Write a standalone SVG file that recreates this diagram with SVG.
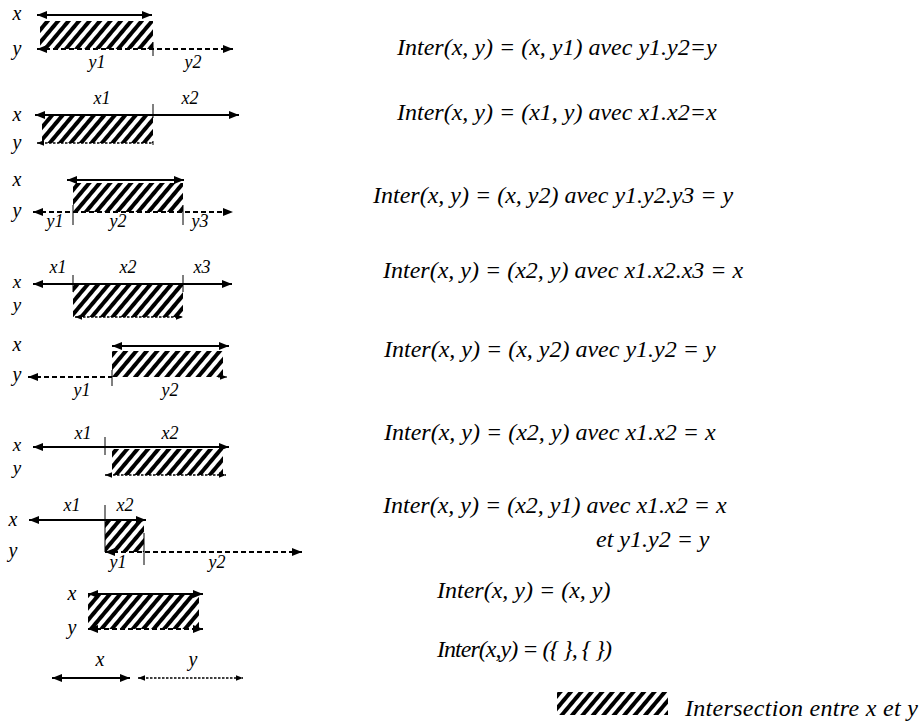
<svg xmlns="http://www.w3.org/2000/svg" width="923" height="725" viewBox="0 0 923 725">
<style>
.sol{stroke:#000;stroke-width:2;fill:none}
.dsh{stroke:#000;stroke-width:2;stroke-dasharray:5 3;fill:none}
.dot{stroke:#000;stroke-width:1.3;stroke-dasharray:2.5 1.5;fill:none}
.tk{stroke:#000;stroke-width:1;fill:none}
.h{fill:url(#hatch)}
</style>
<defs>
<pattern id="hatch" width="8" height="8" patternUnits="userSpaceOnUse" patternTransform="rotate(40)">
<rect width="8" height="8" fill="#fff"/>
<rect width="4" height="8" fill="#000"/>
</pattern>
<marker id="ar" viewBox="0 0 10 8" refX="10" refY="4" markerWidth="10" markerHeight="8" markerUnits="userSpaceOnUse" orient="auto-start-reverse">
<path d="M0,0 L10,4 L0,8 z" fill="#000"/>
</marker>
<marker id="as" viewBox="0 0 10 8" refX="10" refY="4" markerWidth="7" markerHeight="6" markerUnits="userSpaceOnUse" orient="auto-start-reverse">
<path d="M0,0 L10,4 L0,8 z" fill="#000"/>
</marker>
</defs>

<g id="row1">
<rect class="h" x="40" y="21" width="113" height="28"/>
<line class="sol" x1="37" y1="15" x2="152" y2="15" marker-start="url(#ar)" marker-end="url(#ar)"/>
<line class="dsh" x1="37" y1="49" x2="233" y2="49" marker-start="url(#ar)" marker-end="url(#ar)"/>
<line class="tk" x1="153" y1="42" x2="153" y2="56"/>
<text font-family="Liberation Serif" font-style="italic" text-anchor="middle" font-size="20" x="17" y="20">x</text>
<text font-family="Liberation Serif" font-style="italic" text-anchor="middle" font-size="20" x="17" y="55">y</text>
<text font-family="Liberation Serif" font-style="italic" text-anchor="middle" font-size="18" x="97" y="68">y1</text>
<text font-family="Liberation Serif" font-style="italic" text-anchor="middle" font-size="18" x="193" y="68">y2</text>
</g>

<g id="row2">
<rect class="h" x="42" y="115" width="111" height="28"/>
<line class="sol" x1="35" y1="115" x2="239" y2="115" marker-start="url(#ar)" marker-end="url(#ar)"/>
<line class="tk" x1="153" y1="104" x2="153" y2="118"/>
<line class="dot" x1="37" y1="143" x2="153" y2="143" marker-start="url(#as)"/>
<line class="tk" x1="153" y1="141" x2="153" y2="145"/>
<text font-family="Liberation Serif" font-style="italic" text-anchor="middle" font-size="20" x="17" y="121">x</text>
<text font-family="Liberation Serif" font-style="italic" text-anchor="middle" font-size="20" x="17" y="149">y</text>
<text font-family="Liberation Serif" font-style="italic" text-anchor="middle" font-size="18" x="102" y="104">x1</text>
<text font-family="Liberation Serif" font-style="italic" text-anchor="middle" font-size="18" x="190" y="104">x2</text>
</g>

<g id="row3">
<rect class="h" x="73" y="183" width="110" height="29"/>
<line class="sol" x1="67" y1="180" x2="184" y2="180" marker-start="url(#ar)" marker-end="url(#ar)"/>
<line class="dsh" x1="33" y1="212" x2="233" y2="212" marker-start="url(#ar)" marker-end="url(#ar)"/>
<line class="tk" x1="73" y1="205" x2="73" y2="225"/>
<line class="tk" x1="183" y1="205" x2="183" y2="225"/>
<text font-family="Liberation Serif" font-style="italic" text-anchor="middle" font-size="20" x="17" y="186">x</text>
<text font-family="Liberation Serif" font-style="italic" text-anchor="middle" font-size="20" x="17" y="217">y</text>
<text font-family="Liberation Serif" font-style="italic" text-anchor="middle" font-size="18" x="55" y="227">y1</text>
<text font-family="Liberation Serif" font-style="italic" text-anchor="middle" font-size="18" x="118" y="227">y2</text>
<text font-family="Liberation Serif" font-style="italic" text-anchor="middle" font-size="18" x="200" y="227">y3</text>
</g>

<g id="row4">
<rect class="h" x="73" y="284" width="110" height="33"/>
<line class="sol" x1="33" y1="284" x2="232" y2="284" marker-start="url(#ar)" marker-end="url(#ar)"/>
<line class="tk" x1="73" y1="275" x2="73" y2="292"/>
<line class="tk" x1="183" y1="275" x2="183" y2="292"/>
<line class="dot" x1="75" y1="317" x2="183" y2="317" marker-start="url(#as)" marker-end="url(#as)"/>
<text font-family="Liberation Serif" font-style="italic" text-anchor="middle" font-size="19" x="17" y="288">x</text>
<text font-family="Liberation Serif" font-style="italic" text-anchor="middle" font-size="19" x="17" y="311">y</text>
<text font-family="Liberation Serif" font-style="italic" text-anchor="middle" font-size="18" x="58" y="273">x1</text>
<text font-family="Liberation Serif" font-style="italic" text-anchor="middle" font-size="18" x="128" y="273">x2</text>
<text font-family="Liberation Serif" font-style="italic" text-anchor="middle" font-size="18" x="202" y="273">x3</text>
</g>

<g id="row5">
<rect class="h" x="112" y="351" width="111" height="26"/>
<line class="sol" x1="112" y1="346" x2="229" y2="346" marker-start="url(#ar)" marker-end="url(#ar)"/>
<line class="dsh" x1="28" y1="377" x2="112" y2="377" marker-start="url(#ar)"/>
<line class="tk" x1="218" y1="377" x2="227" y2="377" marker-end="url(#as)"/>
<line class="tk" x1="112" y1="370" x2="112" y2="386"/>
<text font-family="Liberation Serif" font-style="italic" text-anchor="middle" font-size="20" x="17" y="351">x</text>
<text font-family="Liberation Serif" font-style="italic" text-anchor="middle" font-size="20" x="17" y="381">y</text>
<text font-family="Liberation Serif" font-style="italic" text-anchor="middle" font-size="18" x="82" y="396">y1</text>
<text font-family="Liberation Serif" font-style="italic" text-anchor="middle" font-size="18" x="170" y="396">y2</text>
</g>

<g id="row6">
<rect class="h" x="112" y="449" width="111" height="26"/>
<line class="sol" x1="33" y1="447" x2="229" y2="447" marker-start="url(#ar)" marker-end="url(#ar)"/>
<line class="tk" x1="105" y1="437" x2="105" y2="455"/>
<line class="dot" x1="105" y1="475" x2="226" y2="475" marker-start="url(#as)" marker-end="url(#as)"/>
<text font-family="Liberation Serif" font-style="italic" text-anchor="middle" font-size="19" x="17" y="451">x</text>
<text font-family="Liberation Serif" font-style="italic" text-anchor="middle" font-size="19" x="17" y="474">y</text>
<text font-family="Liberation Serif" font-style="italic" text-anchor="middle" font-size="18" x="83" y="439">x1</text>
<text font-family="Liberation Serif" font-style="italic" text-anchor="middle" font-size="18" x="170" y="439">x2</text>
</g>

<g id="row7">
<rect class="h" x="105" y="520" width="39" height="32"/>
<line class="sol" x1="29" y1="520" x2="146" y2="520" marker-start="url(#ar)" marker-end="url(#ar)"/>
<line class="tk" x1="105" y1="505" x2="105" y2="552"/>
<line class="tk" x1="144" y1="533" x2="144" y2="565"/>
<line class="dsh" x1="105" y1="552" x2="302" y2="552" marker-start="url(#ar)" marker-end="url(#ar)"/>
<text font-family="Liberation Serif" font-style="italic" text-anchor="middle" font-size="20" x="13" y="526">x</text>
<text font-family="Liberation Serif" font-style="italic" text-anchor="middle" font-size="20" x="13" y="557">y</text>
<text font-family="Liberation Serif" font-style="italic" text-anchor="middle" font-size="18" x="72" y="511">x1</text>
<text font-family="Liberation Serif" font-style="italic" text-anchor="middle" font-size="18" x="125" y="511">x2</text>
<text font-family="Liberation Serif" font-style="italic" text-anchor="middle" font-size="18" x="118" y="568">y1</text>
<text font-family="Liberation Serif" font-style="italic" text-anchor="middle" font-size="18" x="217" y="568">y2</text>
</g>

<g id="row8">
<rect class="h" x="88" y="594" width="111" height="35"/>
<line class="sol" x1="88" y1="594" x2="203" y2="594" marker-start="url(#ar)" marker-end="url(#ar)"/>
<line class="dsh" x1="88" y1="629" x2="203" y2="629" marker-start="url(#ar)" marker-end="url(#ar)"/>
<text font-family="Liberation Serif" font-style="italic" text-anchor="middle" font-size="20" x="72" y="600">x</text>
<text font-family="Liberation Serif" font-style="italic" text-anchor="middle" font-size="20" x="72" y="634">y</text>
</g>

<g id="row9">
<line class="sol" x1="52" y1="678" x2="130" y2="678" marker-start="url(#ar)" marker-end="url(#ar)"/>
<line class="dot" x1="138" y1="678" x2="243" y2="678" marker-start="url(#as)" marker-end="url(#as)"/>
<text font-family="Liberation Serif" font-style="italic" text-anchor="middle" font-size="20" x="100" y="666">x</text>
<text font-family="Liberation Serif" font-style="italic" text-anchor="middle" font-size="20" x="193" y="666">y</text>
</g>

<g id="equations">
<text font-family="Liberation Serif" font-style="italic" font-size="24" x="397" y="55">Inter(x, y) = (x, y1) avec y1.y2=y</text>
<text font-family="Liberation Serif" font-style="italic" font-size="24" x="397" y="120">Inter(x, y) = (x1, y) avec x1.x2=x</text>
<text font-family="Liberation Serif" font-style="italic" font-size="24" x="373" y="203">Inter(x, y) = (x, y2) avec y1.y2.y3 = y</text>
<text font-family="Liberation Serif" font-style="italic" font-size="24" x="383" y="278">Inter(x, y) = (x2, y) avec x1.x2.x3 = x</text>
<text font-family="Liberation Serif" font-style="italic" font-size="24" x="384" y="357">Inter(x, y) = (x, y2) avec y1.y2 = y</text>
<text font-family="Liberation Serif" font-style="italic" font-size="24" x="384" y="440">Inter(x, y) = (x2, y) avec x1.x2 = x</text>
<text font-family="Liberation Serif" font-style="italic" font-size="24" x="383" y="513">Inter(x, y) = (x2, y1) avec x1.x2 = x</text>
<text font-family="Liberation Serif" font-style="italic" font-size="24" x="596" y="547">et y1.y2 = y</text>
<text font-family="Liberation Serif" font-style="italic" font-size="24" x="437" y="598">Inter(x, y) = (x, y)</text>
<text font-family="Liberation Serif" font-style="italic" font-size="24" x="437" y="657" textLength="175" lengthAdjust="spacing">Inter(x,y) = ({ }, { })</text>
</g>

<g id="legend">
<rect class="h" x="557" y="692" width="111" height="23"/>
<text font-family="Liberation Serif" font-style="italic" font-size="24" x="685" y="716" textLength="233" lengthAdjust="spacing">Intersection entre x et y</text>
</g>
</svg>
